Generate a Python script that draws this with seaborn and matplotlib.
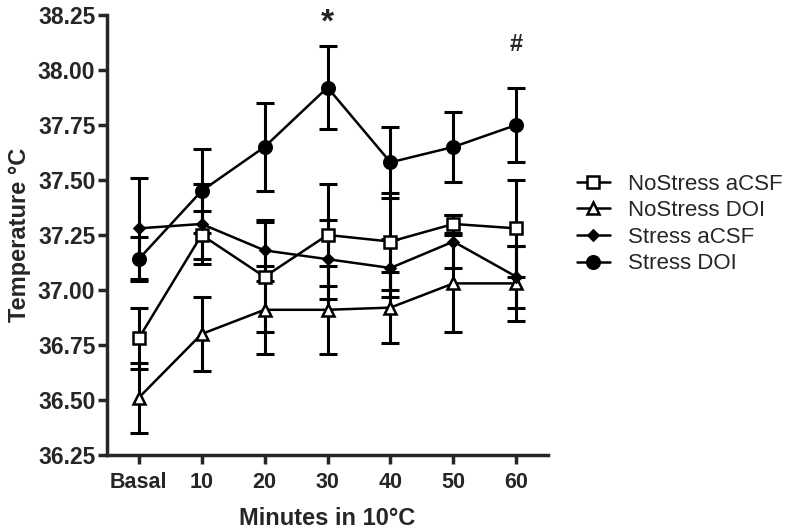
import pandas as pd
import matplotlib
matplotlib.use("Agg")
import matplotlib.pyplot as plt
import seaborn as sns

# Values
timepoints = ["Basal", "10", "20", "30", "40", "50", "60"]
groups = ["NoStress aCSF", "NoStress DOI", "Stress aCSF", "Stress DOI"]

nostress_acsf = [36.78, 37.25, 37.06, 37.25, 37.22, 37.30, 37.28]
nostress_acsf_err = [0.14, 0.11, 0.25, 0.23, 0.22, 0.04, 0.22]
nostress_doi = [36.51, 36.80, 36.91, 36.91, 36.92, 37.03, 37.03]
nostress_doi_err = [0.16, 0.17, 0.20, 0.20, 0.16, 0.22, 0.17]
stress_acsf = [37.28, 37.30, 37.18, 37.14, 37.10, 37.22, 37.06]
stress_acsf_err = [0.23, 0.18, 0.14, 0.18, 0.13, 0.12, 0.14]
stress_doi = [37.14, 37.45, 37.65, 37.92, 37.58, 37.65, 37.75]
stress_doi_err = [0.10, 0.19, 0.20, 0.19, 0.16, 0.16, 0.17]

means = [nostress_acsf, nostress_doi, stress_acsf, stress_doi]
errs = [nostress_acsf_err, nostress_doi_err, stress_acsf_err, stress_doi_err]

rows = []
for g, m, e in zip(groups, means, errs):
    for i, t in enumerate(timepoints):
        rows.append({"group": g, "pos": i, "time": t, "temp": m[i], "sem": e[i]})
df = pd.DataFrame(rows)

sns.set_style("ticks")
plt.rcParams['font.family'] = ['Liberation Sans', 'DejaVu Sans']

fig = plt.figure(figsize=(7.94, 5.31), dpi=100)
ax = fig.add_axes([0.135, 0.143, 0.555, 0.829])

# marker, size, face colour
styles = {
    "NoStress aCSF": ("s", 8, "white"),
    "NoStress DOI": ("^", 9, "white"),
    "Stress aCSF": ("D", 5, "black"),
    "Stress DOI": ("o", 9, "black"),
}

for g in groups:
    d = df[df["group"] == g]
    mk, ms, fc = styles[g]
    ax.errorbar(d["pos"], d["temp"], yerr=d["sem"], fmt="none", ecolor="black",
                elinewidth=2.2, capsize=6.5, capthick=2.2, zorder=2)
    sns.lineplot(data=d, x="pos", y="temp", ax=ax, color="black", linewidth=1.8,
                 marker=mk, markersize=ms, markerfacecolor=fc, markeredgecolor="black",
                 markeredgewidth=1.8, label=g, zorder=3)

# significance marks
ax.text(3, 38.215, "*", ha="center", va="center", fontsize=24, fontweight="bold")
ax.text(6, 38.115, "#", ha="center", va="center", fontsize=17, fontweight="bold")

ax.set_xlim(-0.5, 6.5)
ax.set_ylim(36.25, 38.25)
ax.set_xticks(range(len(timepoints)))
ax.set_xticklabels(timepoints)
ax.set_yticks([36.25 + 0.25 * i for i in range(9)])
ax.set_yticklabels([f"{36.25 + 0.25 * i:.2f}" for i in range(9)])
for lab in ax.get_xticklabels():
    lab.set_fontweight("bold")
    lab.set_fontsize(15.5)
for lab in ax.get_yticklabels():
    lab.set_fontweight("bold")
    lab.set_fontsize(16.5)

ax.set_xlabel("Minutes in 10\u00b0C", fontsize=17, fontweight="bold", labelpad=10)
ax.set_ylabel("Temperature \u00b0C", fontsize=17, fontweight="bold", labelpad=5)

sns.despine(ax=ax)
for s in ["left", "bottom"]:
    ax.spines[s].set_linewidth(2.5)
ax.tick_params(width=2.5, length=6.5, direction="out")
ax.tick_params(axis="x", pad=6)
ax.tick_params(axis="y", pad=2)

leg = ax.legend(loc="center left", bbox_to_anchor=(1.02, 0.525), frameon=False,
                fontsize=16, handlelength=1.5, handletextpad=0.8, labelspacing=0.25)

fig.savefig("out.png", dpi=100)
